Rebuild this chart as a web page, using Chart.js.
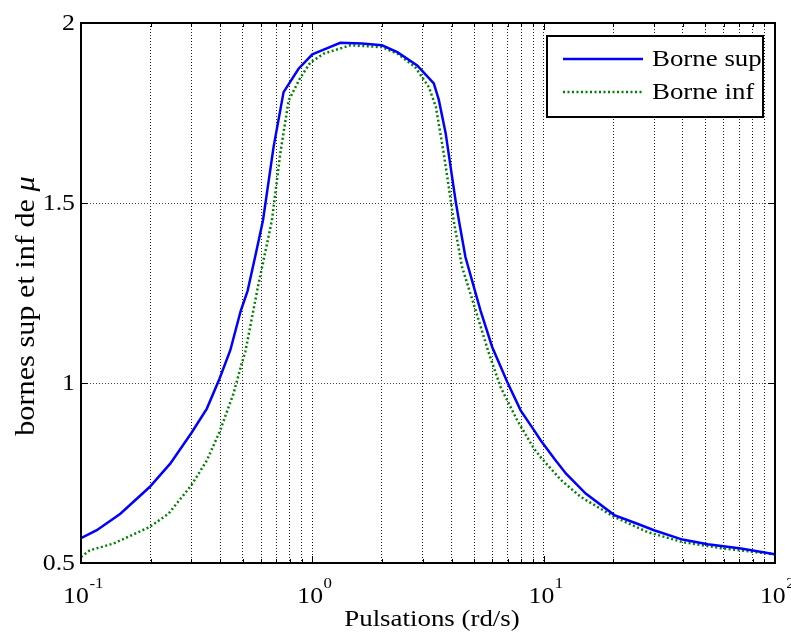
<!DOCTYPE html>
<html>
<head>
<meta charset="utf-8">
<script src="https://cdn.jsdelivr.net/npm/chart.js@4/dist/chart.umd.min.js"></script>
<style>
  html, body { margin: 0; padding: 0; background: #fff; }
  canvas { display: block; }
</style>
</head>
<body>
<canvas id="c" width="791" height="632"></canvas>
<script>
// ---- data ----
const freqSup = [0.1, 0.117, 0.148, 0.198, 0.243, 0.3, 0.35, 0.397, 0.442, 0.49, 0.525, 0.57, 0.612, 0.68, 0.751, 0.872, 1.0, 1.12, 1.32, 1.64, 2.0, 2.33, 2.84, 3.35, 3.52, 3.77, 4.02, 4.16, 4.3, 4.59, 5.33, 5.99, 6.96, 7.95, 9.08, 9.7, 11.1, 12.5, 15.2, 20.2, 25.4, 30, 39.8, 51.2, 71.3, 100];
const valSup  = [0.569, 0.591, 0.637, 0.711, 0.776, 0.861, 0.929, 1.012, 1.091, 1.2, 1.256, 1.36, 1.452, 1.656, 1.808, 1.873, 1.913, 1.926, 1.945, 1.943, 1.938, 1.919, 1.882, 1.832, 1.787, 1.694, 1.572, 1.507, 1.452, 1.35, 1.202, 1.10, 1.003, 0.924, 0.869, 0.841, 0.79, 0.748, 0.693, 0.633, 0.609, 0.591, 0.565, 0.552, 0.54, 0.524];
const freqInf = [0.1, 0.109, 0.138, 0.198, 0.239, 0.3, 0.35, 0.397, 0.456, 0.495, 0.513, 0.583, 0.669, 0.727, 0.79, 0.887, 0.98, 1.12, 1.46, 2.0, 2.33, 2.78, 3.19, 3.42, 3.7, 3.89, 4.08, 4.44, 5.08, 5.8, 6.51, 7.69, 9.08, 9.7, 11.9, 14.5, 20.2, 28.1, 39.8, 60.3, 100];
const valInf  = [0.517, 0.535, 0.554, 0.6, 0.637, 0.716, 0.785, 0.864, 0.97, 1.054, 1.086, 1.27, 1.452, 1.638, 1.785, 1.848, 1.89, 1.915, 1.938, 1.933, 1.915, 1.878, 1.822, 1.767, 1.637, 1.544, 1.452, 1.322, 1.202, 1.082, 0.989, 0.896, 0.818, 0.794, 0.73, 0.683, 0.628, 0.586, 0.558, 0.54, 0.524];
const seriesNames = ['Borne sup', 'Borne inf'];
const xDecades = [0.1, 1, 10, 100];
const xDecadeExp = ['-1', '0', '1', '2'];
const xGridTicks = [0.1,0.2,0.3,0.4,0.5,0.6,0.7,0.8,0.9,1,2,3,4,5,6,7,8,9,10,20,30,40,50,60,70,80,90,100];
const yTicks = [0.5, 1, 1.5, 2];
const yTickLabels = ['0.5', '1', '1.5', '2'];
const xTitle = 'Pulsations (rd/s)';
const yTitle = 'bornes sup et inf de ';
const yTitleSym = 'μ';

const FONT = '"Liberation Serif", "Times New Roman", serif';
const STRETCH = 1.12; // reference glyphs are a little wider than Liberation Serif

function wText(ctx, text, x, y, align) {
  const w = ctx.measureText(text).width * STRETCH;
  let sx = x;
  if (align === 'center') sx = x - w / 2;
  else if (align === 'right') sx = x - w;
  ctx.save();
  ctx.textAlign = 'left';
  ctx.translate(sx, y);
  ctx.scale(STRETCH, 1);
  ctx.fillText(text, 0, 0);
  ctx.restore();
  return w;
}

const toPts = (xs, ys) => xs.map((x, i) => ({ x: x, y: ys[i] }));

const decor = {
  id: 'decor',
  afterDraw(chart) {
    const ctx = chart.ctx;
    const xs = chart.scales.x, ys = chart.scales.y;
    const a = chart.chartArea;
    ctx.save();
    // tick marks inside the box
    ctx.strokeStyle = '#000';
    ctx.lineWidth = 1;
    ctx.beginPath();
    xGridTicks.forEach(v => {
      const px = Math.round(xs.getPixelForValue(v)) + 0.5;
      const len = xDecades.includes(v) ? 7 : 4;
      ctx.moveTo(px, a.bottom); ctx.lineTo(px, a.bottom - len);
      ctx.moveTo(px, a.top); ctx.lineTo(px, a.top + len);
    });
    yTicks.forEach(v => {
      const py = Math.round(ys.getPixelForValue(v)) + 0.5;
      ctx.moveTo(a.left, py); ctx.lineTo(a.left + 7, py);
      ctx.moveTo(a.right, py); ctx.lineTo(a.right - 7, py);
    });
    ctx.stroke();
    // box
    ctx.lineWidth = 2;
    ctx.strokeRect(a.left, a.top, a.right - a.left, a.bottom - a.top);

    // y tick labels
    ctx.fillStyle = '#000';
    ctx.font = '23px ' + FONT;
    ctx.textBaseline = 'middle';
    yTicks.forEach((v, i) => {
      wText(ctx, yTickLabels[i], a.left - 6, ys.getPixelForValue(v) + 1, 'right');
    });

    // x tick labels 10^n
    ctx.textBaseline = 'alphabetic';
    xDecades.forEach((v, i) => {
      const px = xs.getPixelForValue(v);
      ctx.font = '23px ' + FONT;
      const w1 = ctx.measureText('10').width * STRETCH;
      ctx.font = '15px ' + FONT;
      const w2 = ctx.measureText(xDecadeExp[i]).width * STRETCH;
      const start = px - (w1 + w2) / 2 + 2;
      ctx.font = '23px ' + FONT;
      wText(ctx, '10', start, 603, 'left');
      ctx.font = '15px ' + FONT;
      wText(ctx, xDecadeExp[i], start + w1 + 0.5, 588, 'left');
    });

    // x title
    ctx.font = '24px ' + FONT;
    wText(ctx, xTitle, (a.left + a.right) / 2 + 4, 626, 'center');

    // y title (rotated, italic mu)
    ctx.save();
    ctx.translate(27, 306);
    ctx.rotate(-Math.PI / 2);
    ctx.textBaseline = 'middle';
    ctx.font = '27px ' + FONT;
    const wt = ctx.measureText(yTitle).width * STRETCH;
    ctx.font = 'italic 27px ' + FONT;
    const wm = ctx.measureText(yTitleSym).width * STRETCH;
    const s = -(wt + wm) / 2;
    ctx.font = '27px ' + FONT;
    wText(ctx, yTitle, s, 0, 'left');
    ctx.font = 'italic 27px ' + FONT;
    wText(ctx, yTitleSym, s + wt, 0, 'left');
    ctx.restore();

    // legend
    const lx = 547, ly = 36, lw = 216, lh = 81;
    ctx.fillStyle = '#fff';
    ctx.fillRect(lx, ly, lw, lh);
    ctx.strokeStyle = '#000';
    ctx.lineWidth = 2;
    ctx.strokeRect(lx, ly, lw, lh);
    const ds = chart.data.datasets;
    const rows = [59, 92];
    ds.forEach((d, i) => {
      ctx.beginPath();
      ctx.strokeStyle = d.borderColor;
      ctx.lineWidth = d.borderWidth;
      ctx.setLineDash(d.borderDash || []);
      ctx.moveTo(563, rows[i]); ctx.lineTo(643, rows[i]);
      ctx.stroke();
      ctx.setLineDash([]);
      ctx.fillStyle = '#000';
      ctx.font = '24px ' + FONT;
      ctx.textBaseline = 'middle';
      wText(ctx, d.label, 652, rows[i] + 1, 'left');
    });
    ctx.restore();
  }
};

new Chart(document.getElementById('c'), {
  type: 'scatter',
  data: {
    datasets: [
      { label: seriesNames[0], data: toPts(freqSup, valSup), showLine: true,
        borderColor: '#0000ff', borderWidth: 2.5, pointRadius: 0, tension: 0 },
      { label: seriesNames[1], data: toPts(freqInf, valInf), showLine: true,
        borderColor: '#008000', borderWidth: 2.5, borderDash: [2, 2.5], pointRadius: 0, tension: 0 }
    ]
  },
  options: {
    responsive: false,
    devicePixelRatio: 1,
    animation: false,
    layout: { padding: { left: 81, top: 23, right: 16, bottom: 69 } },
    plugins: { legend: { display: false }, tooltip: { enabled: false } },
    scales: {
      x: {
        type: 'logarithmic', min: 0.1, max: 100,
        afterBuildTicks: s => { s.ticks = xGridTicks.map(v => ({ value: v })); },
        ticks: { display: false },
        grid: { drawTicks: false, color: '#222', lineWidth: 1 },
        border: { display: false, dash: [1, 2] }
      },
      y: {
        type: 'linear', min: 0.5, max: 2,
        afterBuildTicks: s => { s.ticks = yTicks.map(v => ({ value: v })); },
        ticks: { display: false },
        grid: { drawTicks: false, color: '#444', lineWidth: 1 },
        border: { display: false, dash: [1, 2] }
      }
    }
  },
  plugins: [decor]
});
</script>
</body>
</html>
